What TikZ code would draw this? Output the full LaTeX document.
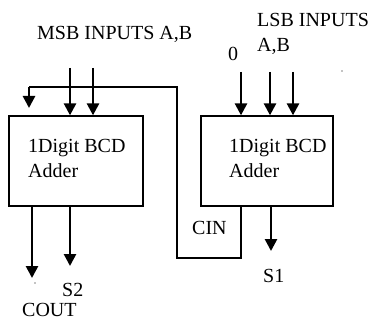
\documentclass[tikz,border=0pt]{standalone}
\usepackage{fontspec}
\setmainfont{Liberation Serif}
\usetikzlibrary{arrows.meta,positioning,calc}
\tikzstyle{adder} = [draw,line width=1.3pt,minimum width=134pt,minimum height=90pt,inner sep=0pt]
\tikzstyle{bus} = [line width=2.6pt,-{Triangle[length=12pt,width=12pt]}]
\tikzstyle{carry} = [line width=1.3pt]
\tikzstyle{lbl} = [inner sep=0pt,anchor=base west,align=left,font=\fontsize{20}{25}\selectfont]

\begin{document}
\begin{tikzpicture}[x=1pt,y=-1pt]
	\useasboundingbox (0,0) rectangle (371,320);
	% adder blocks
	\node (add2)[adder] at (76,161) {};
	\node (add1)[adder,minimum width=132pt] at (267,161) {};
	\node (t2)[lbl] at (28,178) {1Digit BCD\\Adder};
	\node (t1)[lbl] at (229,178) {1Digit BCD\\Adder};

	% inputs
	\node (msb)[lbl] at (37,40) {MSB INPUTS A,B};
	\node (lsb)[lbl] at (257,52) {LSB INPUTS\\A,B};
	\node (zero)[lbl] at (228,61) {0};
	\coordinate (m1) at (70,68);
	\coordinate (m2) at (93,68);
	\coordinate (z) at (241,72);
	\coordinate (l1) at (270,72);
	\coordinate (l2) at (293,72);
	\draw[bus] (m1) -- (m1 |- add2.north);
	\draw[bus] (m2) -- (m2 |- add2.north);
	\draw[bus] (z) -- (z |- add1.north);
	\draw[bus] (l1) -- (l1 |- add1.north);
	\draw[bus] (l2) -- (l2 |- add1.north);

	% carry from lsb to msb
	\coordinate (c1) at (177,258);
	\coordinate (c2) at (29,87);
	\coordinate (c3) at (29,108);
	\draw[carry] (z |- add1.south) |- (c1) |- (c2);
	\draw[bus] (c2) -- (c3);
	\node (cin)[lbl] at (192,234) {CIN};

	% outputs
	\coordinate (cout) at (32,278);
	\coordinate (s2) at (70,266);
	\coordinate (s1) at (271,251);
	\draw[bus] (cout |- add2.south) -- (cout);
	\draw[bus] (s2 |- add2.south) -- (s2);
	\draw[bus] (s1 |- add1.south) -- (s1);
	\node (s1t)[lbl] at (263,282) {S1};
	\node (s2t)[lbl] at (62,296) {S2};
	\node (coutt)[lbl] at (22,316) {COUT};

	\fill (35,283) circle (0.7pt);
	\fill (342,71) circle (0.7pt);
\end{tikzpicture}
\end{document}
